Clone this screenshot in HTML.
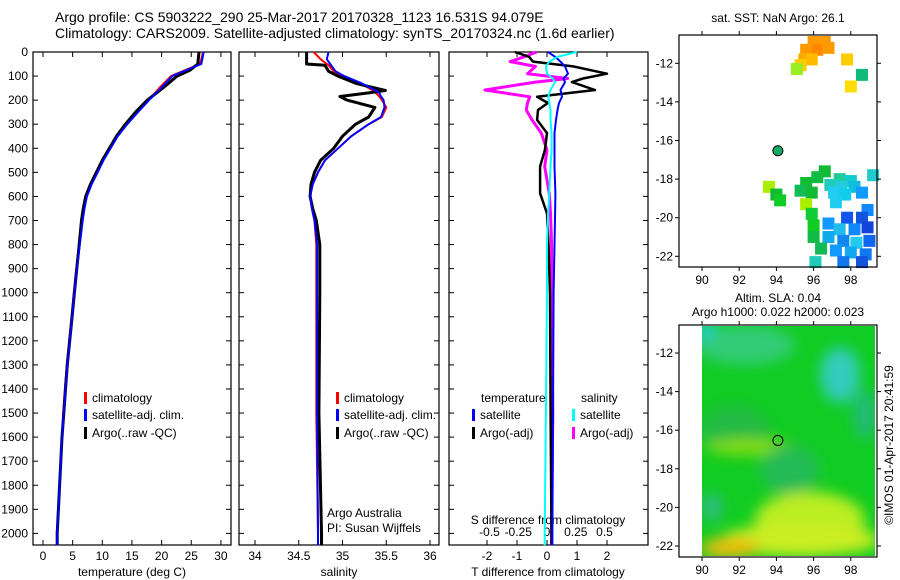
<!DOCTYPE html>
<html><head><meta charset="utf-8"><style>
body{margin:0;background:#fff;}
svg{display:block;font-family:"Liberation Sans",sans-serif;}
</style></head><body>
<svg id="c" width="900" height="580" xmlns="http://www.w3.org/2000/svg"></svg>
<script>
// ---- data ----
const depthT=[0,50,75,100,150,200,250,300,350,400,450,500,550,600,650,700,800,900,1000,1100,1200,1300,1400,1500,1600,1700,1800,1900,2000,2050];
const tempClim=[27,26.5,24,21.6,19.6,17.8,15.9,14.1,12.5,11.3,10.1,9.1,8.1,7.3,6.9,6.6,6.1,5.6,5.2,4.8,4.4,4.0,3.7,3.4,3.2,3.0,2.8,2.6,2.4,2.4];
const tempSat=[27.1,26.7,24.2,21.8,19.9,17.9,16.0,14.2,12.6,11.4,10.2,9.2,8.2,7.4,7.0,6.7,6.2,5.7,5.3,4.9,4.5,4.1,3.8,3.5,3.2,3.0,2.8,2.6,2.4,2.4];
const tempArgo=[26.3,26.1,24.8,22.6,20.2,17.6,15.6,13.9,12.4,11.2,10.0,9.0,8.0,7.2,6.8,6.5,6.1,5.7,5.3,4.9,4.5,4.1,3.8,3.5,3.2,3.0,2.8,2.6,2.4,2.4];
const depthS=[0,30,50,55,80,100,130,160,170,185,200,230,270,300,350,400,450,500,550,600,650,700,800,1000,1500,2000,2050];
const salClim=[34.67,34.75,34.82,34.84,34.9,35.0,35.2,35.35,35.38,35.42,35.45,35.5,35.45,35.3,35.1,34.95,34.8,34.72,34.66,34.63,34.65,34.68,34.7,34.7,34.7,34.72,34.72];
const salSat=[34.84,34.82,34.86,34.87,34.92,35.02,35.22,35.38,35.42,35.44,35.47,35.48,35.44,35.3,35.1,34.95,34.8,34.72,34.66,34.63,34.65,34.68,34.71,34.71,34.71,34.72,34.72];
const salArgo=[34.59,34.59,34.59,34.8,34.84,34.95,35.15,35.49,35.3,34.97,35.05,35.37,35.3,35.15,35.0,34.9,34.75,34.68,34.64,34.63,34.66,34.7,34.74,34.74,34.73,34.76,34.76];
const depthD=[0,20,40,60,90,110,125,158,186,212,241,282,337,407,476,587,670,800,1000,1500,2000,2050];
const tdiffSat=[0.03,0.27,0.45,0.6,0.7,0.55,0.6,0.45,0.5,0.4,0.35,0.3,0.25,0.25,0.25,0.28,0.27,0.25,0.22,0.2,0.18,0.18];
const tdiffArgo=[-1.07,-0.6,-0.47,0.87,2.0,1.2,0.83,1.6,-0.33,0.03,-0.3,-0.33,0,-0.07,-0.23,-0.23,0,0.05,0.1,0.12,0.15,0.15];
const sdiffSat=[0.26,0.09,0.02,-0.01,0,0.05,0.07,0.03,0.01,0.02,0.03,0.03,0.04,0.04,0.03,0.02,0.01,0,0,-0.01,-0.02,-0.02];
const sdiffArgo=[-0.09,-0.2,-0.32,-0.1,-0.17,0.18,-0.1,-0.54,-0.15,-0.17,-0.18,-0.13,-0.05,0,-0.02,0.02,0.03,0.04,0.04,0.05,0.04,0.04];
const tempTicks=[0,5,10,15,20,25,30];
const salTicks=[34,34.5,35,35.5,36];
const tdTicks=[-2,-1,0,1,2];
const sdTicks=["-0.5","-0.25","0","0.25","0.5"];
const depthTicks=[0,100,200,300,400,500,600,700,800,900,1000,1100,1200,1300,1400,1500,1600,1700,1800,1900,2000];
const lonTicks=[90,92,94,96,98];
const latTicks=[-12,-14,-16,-18,-20,-22];
const sstCells=[[96,-10.9,"#f90"],[96.6,-10.9,"#f90"],[95.6,-11.3,"#f90"],[96.2,-11.3,"#f80"],[96.8,-11.2,"#f90"],[95.5,-11.8,"#fa0"],[95.9,-11.8,"#fb0"],[95.3,-12.1,"#fc0"],[95.1,-12.3,"#9e2"],[97.8,-11.8,"#fc0"],[98.6,-12.6,"#1b7"],[98.0,-13.2,"#fd0"],[96.6,-17.6,"#1b3"],[96.2,-17.9,"#1b4"],[97.4,-18.0,"#2c9"],[98.0,-18.1,"#1cc"],[95.6,-18.2,"#1b3"],[96.9,-18.3,"#2cb"],[97.5,-18.4,"#2cd"],[98.2,-18.4,"#1bd"],[95.3,-18.6,"#1b5"],[95.9,-18.7,"#1b3"],[97.1,-18.7,"#2ce"],[97.7,-18.8,"#1ce"],[98.6,-18.7,"#19f"],[93.6,-18.4,"#ae0"],[94.0,-18.8,"#1b3"],[94.2,-19.1,"#1c2"],[95.6,-19.3,"#ae0"],[97.2,-19.2,"#2ce"],[95.9,-19.8,"#1c3"],[98.9,-19.6,"#18f"],[97.8,-20.0,"#15e"],[98.6,-20.0,"#15d"],[96.0,-20.4,"#1c2"],[96.8,-20.3,"#19f"],[97.4,-20.6,"#2be"],[98.2,-20.6,"#18f"],[98.9,-20.5,"#14d"],[96.0,-21.0,"#1b4"],[96.8,-21.0,"#1ae"],[97.6,-21.2,"#18e"],[98.3,-21.3,"#2ce"],[99.0,-21.2,"#16e"],[96.4,-21.6,"#1b5"],[97.2,-21.7,"#19f"],[98.0,-21.8,"#1ae"],[98.8,-21.9,"#17e"],[96.1,-22.3,"#2cb"],[97.6,-22.3,"#17e"],[98.6,-22.3,"#15d"],[99.2,-17.8,"#2cc"]];
// ---- drawing ----
const S=document.getElementById('c');const NS="http://www.w3.org/2000/svg";
function mk(t,a,p){const e=document.createElementNS(NS,t);for(const k in a)e.setAttribute(k,a[k]);(p||S).appendChild(e);return e;}
function txt(x,y,s,size,anchor,name){const e=mk('text',{x:x,y:y,'font-size':size,'text-anchor':anchor||'start',fill:'#000'});e.textContent=s;

return e;}
const Y=d=>52+d*0.2407;
const xT=v=>43+v*5.93, xS=v=>255+(v-34)*87.5, xTD=v=>547+v*30, xSD=v=>547+v*115;
function line(xs,ds,fx,col,w,name){const p=xs.map((v,i)=>fx(v).toFixed(1)+','+Y(ds[i]).toFixed(1)).join(' ');
const e=mk('polyline',{points:p,fill:'none',stroke:col,'stroke-width':w,'stroke-linejoin':'round'});

}
function panel(x0,x1,name){const r=mk('rect',{x:x0,y:52,width:x1-x0,height:493,fill:'none',stroke:'#000','stroke-width':1.2});


depthTicks.forEach(d=>{mk('line',{x1:x0,x2:x0+5,y1:Y(d),y2:Y(d),stroke:'#000'});mk('line',{x1:x1-5,x2:x1,y1:Y(d),y2:Y(d),stroke:'#000'});});}
function xt(vals,fx,labels,y){vals.forEach((v,i)=>{const x=fx(v);mk('line',{x1:x,x2:x,y1:52,y2:57,stroke:'#000'});mk('line',{x1:x,x2:x,y1:540,y2:545,stroke:'#000'});if(labels)txt(x,y,labels[i],12,'middle','x-tick-label');});}
// titles
txt(55,22,"Argo profile: CS 5903222_290 25-Mar-2017 20170328_1123 16.531S 94.079E",14,'start','title-line-1');
txt(55,38,"Climatology: CARS2009. Satellite-adjusted climatology: synTS_20170324.nc (1.6d earlier)",14,'start','title-line-2');
// panels
panel(33,231,'temperature-panel');panel(239,439,'salinity-panel');panel(449,648,'difference-panel');
depthTicks.forEach(d=>txt(28,Y(d)+4,String(d),12,'end','depth-tick-label'));
xt(tempTicks,xT,tempTicks.map(String),560);
xt(salTicks,xS,salTicks.map(String),560);
xt(tdTicks,xTD,tdTicks.map(String),560);
sdTicks.forEach(s=>txt(xSD(parseFloat(s)),536,s,12,'middle','s-diff-tick-label'));
txt(132,576,"temperature (deg C)",12,'middle','temperature-axis-title');
txt(339,576,"salinity",12,'middle','salinity-axis-title');
txt(548,576,"T difference from climatology",12,'middle','t-diff-axis-title');
txt(548,524,"S difference from climatology",12,'middle','s-diff-axis-title');
// series
line(tempClim,depthT,xT,'#f00',2,'temp-climatology-line');
line(tempArgo,depthT,xT,'#000',3,'temp-argo-line');
line(tempSat,depthT,xT,'#00f',2,'temp-satellite-line');
line(salClim,depthS,xS,'#f00',2,'sal-climatology-line');
line(salArgo,depthS,xS,'#000',3,'sal-argo-line');
line(salSat,depthS,xS,'#00f',2,'sal-satellite-line');
line(sdiffArgo,depthD,xSD,'#f0f',3,'sdiff-argo-line');
line(tdiffArgo,depthD,xTD,'#000',2.5,'tdiff-argo-line');
line(tdiffSat,depthD,xTD,'#00f',2,'tdiff-satellite-line');
line(sdiffSat,depthD,xSD,'#0ff',2,'sdiff-satellite-line');
// legends
function leg(x,y,col,s){mk('rect',{x:x,y:y-10,width:3,height:12,fill:col});txt(x+8,y,s,12,'start','legend-entry');}
[[84],[336]].forEach(([x])=>{leg(x,402,'#f00','climatology');leg(x,419,'#00f','satellite-adj. clim.');leg(x,437,'#000','Argo(..raw -QC)');});
txt(481,402,"temperature",12,'start','legend-heading');txt(581,402,"salinity",12,'start','legend-heading');
leg(472,419,'#00f','satellite');leg(472,437,'#000','Argo(-adj)');leg(572,419,'#0ff','satellite');leg(572,437,'#f0f','Argo(-adj)');
txt(327,517,"Argo Australia",12,'start','credit-text');txt(327,532,"PI: Susan Wijffels",12,'start','pi-text');
// maps
const mx=v=>702+(v-90)*18.6;
function mapFrame(top,bot,y12,name){
 const r=mk('rect',{x:679,y:top,width:198,height:bot-top,fill:'none',stroke:'#000','stroke-width':1.2});
 
 
 const my=v=>y12+(-12-v)*19.3;
 lonTicks.forEach(l=>{const x=mx(l);mk('line',{x1:x,x2:x,y1:top-4,y2:top,stroke:'#000'});mk('line',{x1:x,x2:x,y1:bot,y2:bot+4,stroke:'#000'});txt(x,bot+17,String(l),12,'middle','lon-tick-label');});
 latTicks.forEach(l=>{const y=my(l);mk('line',{x1:675,x2:679,y1:y,y2:y,stroke:'#000'});mk('line',{x1:877,x2:881,y1:y,y2:y,stroke:'#000'});txt(673,y+4,String(l),12,'end','lat-tick-label');});
 return my;}
const my1=v=>63.3+(-12-v)*19.3;
sstCells.forEach(c=>{const r=mk('rect',{x:mx(c[0])-6,y:my1(c[1])-6,width:12,height:12,fill:c[2]});

});
mapFrame(35,267,63.3,'sst-map');
txt(778,22,"sat. SST: NaN Argo: 26.1",12,'middle','sst-map-title');
mk('circle',{cx:mx(94.08),cy:my1(-16.53),r:5,fill:'#1a6',stroke:'#000'});
// map2 field
const defs=mk('defs',{});const f=mk('filter',{id:'bl',x:'-50%',y:'-50%',width:'200%',height:'200%'},defs);mk('feGaussianBlur',{stdDeviation:7},f);
mk('clipPath',{id:'cp'},defs);mk('rect',{x:702,y:326,width:173,height:230},defs.lastChild);
const g=mk('g',{'clip-path':'url(#cp)'});
mk('rect',{x:702,y:326,width:173,height:230,fill:'#1c2'},g);
const gb=mk('g',{filter:'url(#bl)'},g);
[[745,345,50,20,'#3c7'],[840,375,20,28,'#3cb'],[705,330,10,10,'#2cc'],[735,430,35,25,'#2b4'],[750,447,45,8,'#8d1'],[790,470,30,25,'#2b5'],[865,415,12,25,'#2b7'],[810,520,55,28,'#be2'],[800,540,80,16,'#ce2'],[730,548,30,10,'#eb1'],[712,507,10,14,'#3b8']].forEach(e=>mk('ellipse',{cx:e[0],cy:e[1],rx:e[2],ry:e[3],fill:e[4]},gb));
mapFrame(325,557,353,'sla-map');
txt(778,302,"Altim. SLA: 0.04",12,'middle','sla-map-title');
txt(778,316,"Argo h1000: 0.022 h2000: 0.023",12,'middle','sla-map-subtitle');
mk('circle',{cx:mx(94.08),cy:353+4.53*19.3,r:5,fill:'none',stroke:'#000'});
const cr=txt(0,0,"©IMOS 01-Apr-2017 20:41:59",12,'middle','timestamp');cr.setAttribute('transform','translate(893,445) rotate(-90)');
</script>
</body></html>
